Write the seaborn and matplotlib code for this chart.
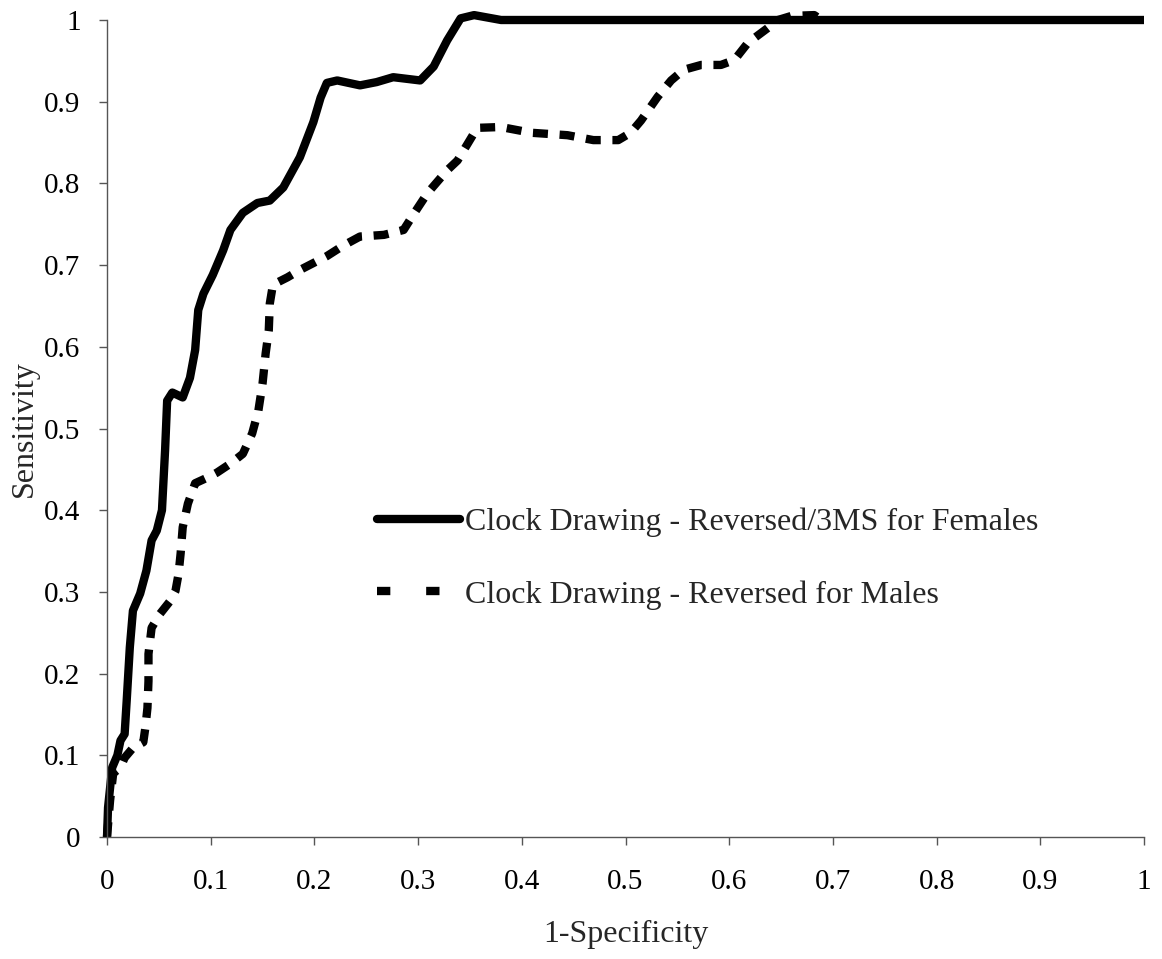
import matplotlib
matplotlib.use("Agg")
import matplotlib.pyplot as plt
from matplotlib.lines import Line2D
import seaborn as sns
import pandas as pd

female_x = [0, 0.001, 0.005, 0.010, 0.013, 0.017, 0.019, 0.022, 0.025, 0.032, 0.038, 0.043,
            0.048, 0.053, 0.056, 0.058, 0.063, 0.073, 0.080, 0.085, 0.088, 0.093, 0.102, 0.112,
            0.119, 0.131, 0.145, 0.157, 0.170, 0.186, 0.199, 0.206, 0.212, 0.222, 0.244, 0.260,
            0.276, 0.302, 0.315, 0.328, 0.341, 0.354, 0.380, 1.000]
female_y = [0, 0.036, 0.085, 0.100, 0.118, 0.126, 0.167, 0.232, 0.277, 0.298, 0.326, 0.363,
            0.375, 0.400, 0.473, 0.534, 0.544, 0.538, 0.562, 0.596, 0.645, 0.665, 0.688, 0.718,
            0.743, 0.764, 0.776, 0.779, 0.795, 0.832, 0.875, 0.905, 0.923, 0.926, 0.920, 0.924,
            0.930, 0.926, 0.943, 0.975, 1.002, 1.006, 1.000, 1.000]

male_x = [0, 0.003, 0.006, 0.013, 0.017, 0.025, 0.035, 0.037, 0.039, 0.040, 0.040, 0.043,
          0.051, 0.061, 0.066, 0.069, 0.071, 0.073, 0.078, 0.085, 0.097, 0.106, 0.119, 0.131,
          0.140, 0.146, 0.150, 0.153, 0.156, 0.157, 0.160, 0.174, 0.186, 0.212, 0.228, 0.244,
          0.267, 0.286, 0.296, 0.309, 0.328, 0.338, 0.348, 0.357, 0.380, 0.409, 0.444, 0.469,
          0.493, 0.505, 0.515, 0.531, 0.544, 0.556, 0.573, 0.592, 0.605, 0.618, 0.637, 0.647,
          0.660, 0.682, 0.689]
male_y = [0, 0.045, 0.078, 0.085, 0.097, 0.109, 0.116, 0.134, 0.158, 0.191, 0.224, 0.256,
          0.273, 0.289, 0.301, 0.322, 0.347, 0.379, 0.408, 0.433, 0.440, 0.446, 0.457, 0.469,
          0.494, 0.522, 0.555, 0.592, 0.620, 0.653, 0.676, 0.685, 0.694, 0.711, 0.724, 0.735,
          0.737, 0.743, 0.763, 0.788, 0.816, 0.828, 0.849, 0.868, 0.869, 0.862, 0.859, 0.853,
          0.853, 0.862, 0.877, 0.906, 0.926, 0.939, 0.945, 0.945, 0.951, 0.972, 0.990, 1.000,
          1.005, 1.006, 1.000]

label_female = "Clock Drawing - Reversed/3MS for Females"
label_male = "Clock Drawing - Reversed for Males"
x_ticks = [0, 0.1, 0.2, 0.3, 0.4, 0.5, 0.6, 0.7, 0.8, 0.9, 1]
x_tick_labels = ["0", "0.1", "0.2", "0.3", "0.4", "0.5", "0.6", "0.7", "0.8", "0.9", "1"]
y_ticks = x_ticks
y_tick_labels = x_tick_labels

sns.set_style("ticks")
plt.rcParams["font.family"] = ["Liberation Serif", "DejaVu Serif"]

fig = plt.figure(figsize=(11.62, 9.59), dpi=100)
ax = fig.add_axes([107 / 1162, 1 - 837 / 959, (1144 - 107) / 1162, (837 - 20) / 959])

df_f = pd.DataFrame({"x": female_x, "y": female_y})
df_m = pd.DataFrame({"x": male_x, "y": male_y})

lw = 6.0
sns.lineplot(data=df_m, x="x", y="y", ax=ax, sort=False, estimator=None, color="black",
             linewidth=lw, linestyle=(0, (1.8, 1.4)), dash_joinstyle="round", clip_on=False)
sns.lineplot(data=df_f, x="x", y="y", ax=ax, sort=False, estimator=None, color="black",
             linewidth=lw, solid_joinstyle="round", solid_capstyle="butt", clip_on=False)

ax.set_xlim(0, 1)
ax.set_ylim(0, 1)
ax.set_xticks(x_ticks)
ax.set_xticklabels(x_tick_labels)
ax.set_yticks(y_ticks)
ax.set_yticklabels(y_tick_labels)
ax.tick_params(axis="both", labelsize=21, length=6, width=1, color="#555555",
               labelcolor="black")
ax.tick_params(axis="x", pad=17)
ax.tick_params(axis="y", pad=13)
for s in ["top", "right"]:
    ax.spines[s].set_visible(False)
for s in ["left", "bottom"]:
    ax.spines[s].set_color("#555555")
    ax.spines[s].set_linewidth(1)

ax.set_xlabel("1-Specificity", fontsize=23, labelpad=18)
ax.set_ylabel("Sensitivity", fontsize=23, labelpad=4)

h1 = Line2D([0], [0], color="black", linewidth=lw, solid_capstyle="round")
h2 = Line2D([0], [0], color="black", linewidth=lw, linestyle=(0, (1.6, 4.3)))
leg = ax.legend([h1, h2], [label_female, label_male], loc="center left",
                bbox_to_anchor=(0.233, 0.341), frameon=False, fontsize=23,
                handlelength=2.6, handletextpad=0.15, labelspacing=1.36)

fig.savefig("out.png", dpi=100)
